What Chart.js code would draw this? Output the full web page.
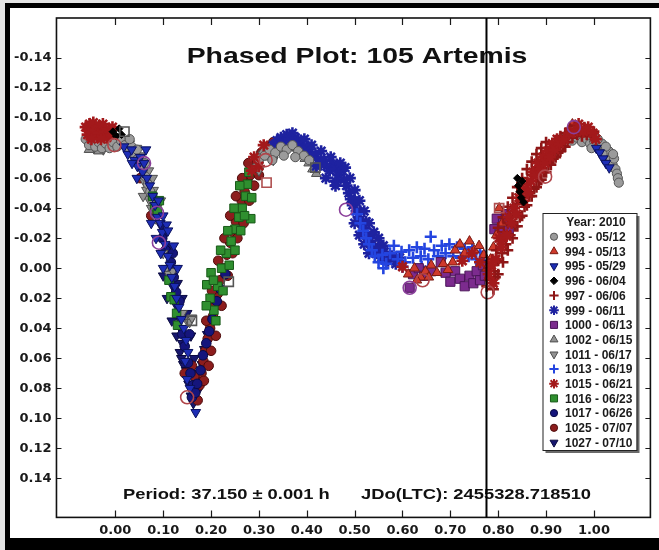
<!DOCTYPE html>
<html><head><meta charset="utf-8">
<script src="https://cdn.jsdelivr.net/npm/chart.js@4.4.1/dist/chart.umd.min.js"></script>
<style>html,body{margin:0;padding:0;background:#fff;overflow:hidden}</style>
</head><body>
<canvas id="c" width="659" height="550"></canvas>
<script>
// ---------- text ----------
const TITLE = 'Phased Plot: 105 Artemis';
const PERIOD_TEXT = 'Period: 37.150 \u00B1 0.001 h';
const JD_TEXT = 'JDo(LTC): 2455328.718510';
const LEGEND_TITLE = 'Year: 2010';
const EPOCH_PHASE = 0.7755;

// ---------- axes ----------
const X_MIN = -0.123, X_MAX = 1.118;
const Y_MIN = -0.1667, Y_MAX = 0.166;
const X_TICKS = [0.00, 0.10, 0.20, 0.30, 0.40, 0.50, 0.60, 0.70, 0.80, 0.90, 1.00];
const Y_TICKS = [-0.14, -0.12, -0.10, -0.08, -0.06, -0.04, -0.02, 0.00, 0.02, 0.04, 0.06, 0.08, 0.10, 0.12, 0.14];

// ---------- series labels ----------
const LABELS = ['993 - 05/12','994 - 05/13','995 - 05/29','996 - 06/04','997 - 06/06','999 - 06/11','1000 - 06/13','1002 - 06/15','1011 - 06/17','1013 - 06/19','1015 - 06/21','1016 - 06/23','1017 - 06/26','1025 - 07/07','1027 - 07/10'];

// ---------- data [phase, mag] ----------
const s993 = [[-0.062,-0.086],[-0.055,-0.082],[-0.048,-0.085],[-0.042,-0.081],[-0.035,-0.084],[-0.028,-0.08],[-0.02,-0.083],[-0.012,-0.08],[-0.005,-0.084],[0.004,-0.081],[0.012,-0.085],[0.02,-0.082],[0.027,-0.079],[0.034,-0.081],[0.04,-0.076],[0.047,-0.073],[0.053,-0.07],[0.058,-0.066],[0.063,-0.061],[0.068,-0.056],[0.073,-0.051],[0.078,-0.046],[0.084,-0.041],[0.088,-0.036],[0.03,-0.086],[0.045,-0.079],[0.062,-0.07],
 [0.3,-0.071],[0.312,-0.075],[0.322,-0.079],[0.334,-0.077],[0.346,-0.081],[0.358,-0.079],[0.37,-0.082],[0.382,-0.078],[0.394,-0.075],[0.405,-0.072],[0.328,-0.072],[0.352,-0.075],[0.376,-0.074],
 [0.935,-0.086],[0.945,-0.088],[0.955,-0.085],[0.965,-0.087],[0.975,-0.084],[0.985,-0.086],[0.992,-0.083],[1.0,-0.085],[1.006,-0.082],[1.012,-0.08],[1.017,-0.083],[1.022,-0.078],[1.027,-0.075],[1.031,-0.078],[1.035,-0.072],[1.039,-0.069],[1.042,-0.073],[1.045,-0.066],[1.048,-0.063],[1.05,-0.06],[1.052,-0.057],[1.025,-0.081],[1.04,-0.076],[0.995,-0.08],[1.008,-0.086],[1.018,-0.076]];
const s994 = [[0.612,0.004],[0.625,0.0],[0.638,0.006],[0.648,0.002],[0.66,-0.002],[0.672,0.003],[0.685,-0.003],[0.695,0.001],[0.705,-0.004],[0.71,-0.012],[0.72,-0.016],[0.73,-0.01],[0.74,-0.018],[0.75,-0.012],[0.76,-0.015],[0.77,-0.009],[0.776,0.0],[0.78,0.006],[0.784,-0.006],[0.79,-0.014],[0.796,-0.022],[0.802,-0.04],[0.808,-0.03],[0.955,-0.096],[0.97,-0.094],[0.63,0.008],[0.655,0.006]];
const s995 = [[0.018,-0.081],[0.026,-0.076],[0.034,-0.079],[0.04,-0.072],[0.046,-0.068],[0.052,-0.074],[0.057,-0.064],[0.064,-0.079],[0.066,-0.06],[0.072,-0.055],[0.078,-0.048],[0.083,-0.042],[0.088,-0.034],[0.094,-0.03],[0.098,-0.024],[0.104,-0.016],[0.107,-0.029],[0.11,-0.008],[0.114,-0.002],[0.118,0.006],[0.124,0.012],[0.128,0.02],[0.133,0.026],[0.138,0.034],[0.143,0.04],[0.148,0.048],[0.152,0.056],[0.146,0.062],[0.15,0.074],[0.156,0.08],[0.168,0.096],
 [0.09,-0.045],[0.075,-0.03],[0.1,-0.035],[0.085,-0.02],[0.11,-0.025],[0.095,-0.01],[0.122,-0.015],[0.06,-0.07],[0.045,-0.06],[0.035,-0.07],[0.1,0.0],[0.13,0.0],
 [1.005,-0.08],[1.012,-0.077],[1.019,-0.073],[1.025,-0.07],[1.032,-0.067]];
const s996 = [[-0.005,-0.091],[0.002,-0.088],[0.008,-0.093],[0.013,-0.089],[0.84,-0.06],[0.842,-0.055],[0.845,-0.051],[0.848,-0.047],[0.85,-0.058],[0.853,-0.044]];
const s997 = [[0.776,0.012],[0.78,0.0],[0.784,0.008],[0.788,-0.006],[0.792,0.002],[0.796,-0.012],[0.8,-0.005],[0.804,-0.018],[0.808,-0.01],[0.812,-0.024],[0.816,-0.016],[0.82,-0.03],[0.825,-0.022],[0.83,-0.036],[0.835,-0.028],[0.84,-0.043],[0.845,-0.034],[0.85,-0.05],[0.855,-0.041],[0.86,-0.056],[0.865,-0.048],[0.87,-0.062],[0.875,-0.053],[0.88,-0.067],[0.885,-0.058],[0.89,-0.072],[0.895,-0.064],[0.9,-0.076],[0.905,-0.069],[0.91,-0.08],[0.915,-0.073],[0.92,-0.084],[0.925,-0.077],[0.93,-0.088],[0.935,-0.081],[0.94,-0.09],[0.945,-0.084],[0.95,-0.093],[0.955,-0.087],[0.96,-0.095],[0.965,-0.089],[0.97,-0.093],[0.975,-0.088],[0.98,-0.094],[0.985,-0.089],[0.99,-0.092],[0.995,-0.088],[1.0,-0.091],
 [0.8,-0.027],[0.81,-0.034],[0.82,-0.041],[0.83,-0.047],[0.84,-0.054],[0.85,-0.06],[0.86,-0.066],[0.87,-0.071],[0.88,-0.076],[0.89,-0.08],[0.9,-0.084],
 [0.8,0.004],[0.81,-0.004],[0.82,-0.012],[0.83,-0.02],[0.84,-0.028],[0.85,-0.035],[0.86,-0.042],[0.87,-0.048],[0.88,-0.054],[0.89,-0.059],[0.9,-0.064],[0.91,-0.069],[0.92,-0.074],[0.93,-0.078],[0.94,-0.081],[0.79,0.014],[0.794,0.006]];
const s999 = [[0.33,-0.082],[0.338,-0.085],[0.346,-0.087],[0.352,-0.084],[0.358,-0.089],[0.364,-0.086],[0.37,-0.09],[0.376,-0.087],[0.382,-0.085],[0.388,-0.082],[0.394,-0.079],[0.4,-0.081],[0.406,-0.077],[0.412,-0.074],[0.418,-0.076],[0.424,-0.072],[0.43,-0.069],[0.436,-0.072],[0.442,-0.068],[0.448,-0.065],[0.454,-0.069],[0.46,-0.066],[0.466,-0.062],[0.472,-0.065],[0.478,-0.059],[0.483,-0.055],[0.488,-0.05],[0.492,-0.046],[0.496,-0.042],[0.5,-0.045],[0.504,-0.038],[0.508,-0.034],[0.512,-0.038],[0.516,-0.03],[0.52,-0.027],[0.524,-0.031],[0.528,-0.022],[0.532,-0.018],[0.536,-0.022],[0.54,-0.014],[0.545,-0.01],[0.55,-0.014],[0.556,-0.007],[0.562,-0.011],[0.57,-0.005],[0.578,-0.008],[0.586,-0.003],[0.594,-0.007],[0.46,-0.058],[0.42,-0.068],
 [0.43,-0.078],[0.45,-0.074],[0.47,-0.07],[0.44,-0.06],[0.46,-0.055],[0.48,-0.067],[0.49,-0.06],[0.5,-0.052],[0.51,-0.045],[0.52,-0.038],[0.53,-0.03],[0.54,-0.024],[0.5,-0.03],[0.51,-0.022],[0.52,-0.016],[0.53,-0.01],[0.55,-0.02],[0.56,-0.015],[0.395,-0.086],[0.41,-0.082]];
const s1000 = [[0.615,0.013],[0.622,0.004],[0.634,0.0],[0.645,0.005],[0.66,0.002],[0.68,-0.004],[0.69,0.003],[0.7,0.009],[0.71,0.002],[0.72,0.007],[0.73,0.012],[0.74,0.005],[0.748,0.01],[0.755,0.002],[0.762,0.008],[0.768,-0.002],[0.772,0.005],[0.792,-0.026],[0.797,-0.033],[0.803,-0.024],[0.81,-0.03],[0.816,-0.036],[0.822,-0.026]];
const s1002 = [[0.292,-0.068],[0.3,-0.074],[0.308,-0.078],[0.316,-0.074],[0.324,-0.081],[0.332,-0.078],[0.34,-0.083],[0.348,-0.079],[0.356,-0.083],[0.364,-0.08],[0.372,-0.084],[0.38,-0.08],[0.388,-0.077],[0.396,-0.073],[0.404,-0.07],[0.412,-0.066],[0.42,-0.063],[-0.055,-0.079],[-0.035,-0.078]];
const s1011 = [[0.03,-0.083],[0.038,-0.078],[0.05,-0.07],[0.06,-0.058],[0.065,-0.052],[0.07,-0.046],[0.075,-0.04],[0.08,-0.052],[0.085,-0.033],[0.09,-0.042],[0.1,-0.01],[0.106,0.0],[0.112,0.004],[0.12,0.002],[0.14,0.03],[0.148,0.034],[0.155,0.036],[0.16,0.033],[-0.045,-0.08],[-0.025,-0.079],[0.3,-0.065],[0.33,-0.072],
 [0.045,-0.08],[0.055,-0.075],[0.07,-0.065],[0.058,-0.048],[0.095,-0.045],[0.078,-0.06]];
const s1013 = [[0.505,-0.036],[0.512,-0.03],[0.518,-0.025],[0.524,-0.02],[0.53,-0.016],[0.536,-0.012],[0.542,-0.008],[0.55,-0.004],[0.558,-0.009],[0.566,-0.003],[0.574,-0.01],[0.582,-0.015],[0.59,-0.006],[0.598,-0.011],[0.606,-0.004],[0.614,-0.012],[0.622,-0.007],[0.63,-0.014],[0.638,-0.008],[0.646,-0.013],[0.654,-0.006],[0.659,-0.021],[0.666,-0.012],[0.674,-0.008],[0.682,-0.015],[0.69,-0.01],[0.698,-0.016],[0.706,-0.008],[0.714,-0.014],[0.722,-0.007],[0.73,-0.013],[0.738,-0.008],[0.746,-0.014],[0.754,-0.006],[0.762,-0.011],[0.77,-0.005],[0.6,-0.001],[0.64,-0.001],[0.56,0.0]];
const s1015 = [[-0.062,-0.094],[-0.058,-0.089],[-0.054,-0.096],[-0.05,-0.091],[-0.046,-0.097],[-0.042,-0.092],[-0.038,-0.088],[-0.034,-0.095],[-0.03,-0.09],[-0.026,-0.096],[-0.022,-0.091],[-0.018,-0.087],[-0.014,-0.093],[-0.01,-0.089],[-0.006,-0.094],[-0.05,-0.086],[-0.03,-0.086],
 [0.78,0.004],[0.786,-0.002],[0.79,0.01],[0.795,-0.006],[0.802,-0.02],[0.806,-0.014],[0.81,-0.02],[0.818,-0.022],[0.822,-0.034],[0.828,-0.03],[0.833,-0.04],[0.838,-0.036],[0.843,-0.047],[0.852,-0.045],[0.858,-0.053],[0.862,-0.05],[0.868,-0.058],[0.873,-0.064],[0.878,-0.062],[0.883,-0.07],[0.888,-0.066],[0.893,-0.074],[0.898,-0.07],[0.903,-0.078],[0.908,-0.074],[0.913,-0.083],[0.918,-0.079],[0.923,-0.086],[0.928,-0.083],[0.938,-0.086],[0.948,-0.09],[0.958,-0.091],[0.968,-0.096],[0.978,-0.091],[0.988,-0.094],[0.998,-0.09],[1.004,-0.086],
 [0.725,-0.005],[0.745,-0.01],[0.762,-0.004],[0.6,-0.001],[0.29,-0.074],[0.3,-0.068],[0.31,-0.082],[0.285,-0.065]];
const s1016 = [[0.078,-0.048],[0.082,-0.041],[0.088,-0.038],[0.092,-0.045],[0.112,0.008],[0.116,0.019],[0.123,0.021],[0.128,0.03],[0.13,0.038],[0.191,0.011],[0.2,0.003],[0.206,0.028],[0.198,0.02],[0.214,0.012],[0.222,0.0],[0.232,-0.01],[0.242,-0.018],[0.25,-0.026],[0.258,-0.034],[0.265,-0.04],[0.272,-0.048],[0.279,-0.064],[0.285,-0.047],[0.283,-0.033],[0.276,-0.056],
 [0.19,0.025],[0.21,0.035],[0.225,0.015],[0.205,0.008],[0.238,-0.002],[0.22,-0.012],[0.25,-0.012],[0.235,-0.025],[0.262,-0.025],[0.248,-0.04],[0.27,-0.035],[0.26,-0.055]];
const s1017 = [[0.098,-0.02],[0.105,-0.012],[0.116,-0.004],[0.122,0.006],[0.127,0.016],[0.134,0.022],[0.14,0.044],[0.145,0.052],[0.152,0.063],[0.157,0.07],[0.162,0.078],[0.16,0.086],[0.167,0.083],[0.171,0.077],[0.178,0.068],[0.183,0.058],[0.19,0.05],[0.196,0.042],[0.203,0.034],[0.212,0.022],[0.22,0.014],[0.23,0.004],[0.12,-0.01],[0.155,0.044]];
const s1025 = [[0.172,0.088],[0.176,0.078],[0.18,0.07],[0.184,0.062],[0.188,0.055],[0.193,0.047],[0.198,0.04],[0.204,0.032],[0.209,0.025],[0.214,0.017],[0.219,0.008],[0.226,0.0],[0.233,-0.009],[0.24,-0.017],[0.246,-0.024],[0.252,-0.031],[0.258,-0.038],[0.264,-0.045],[0.27,-0.051],[0.276,-0.058],[0.282,-0.062],[0.288,-0.068],[0.296,-0.073],[0.305,-0.077],[0.318,-0.081],[0.33,-0.084],[0.16,0.065],[0.165,0.072],[0.145,0.07],[0.052,-0.06],[0.075,-0.035],
 [0.185,0.075],[0.195,0.065],[0.2,0.055],[0.19,0.035],[0.21,0.045],[0.222,0.025],[0.202,0.015],[0.235,0.005],[0.215,-0.005],[0.245,-0.01],[0.228,-0.02],[0.255,-0.02],[0.24,-0.035],[0.268,-0.03],[0.252,-0.048],[0.28,-0.045],[0.265,-0.06],[0.29,-0.055],[0.278,-0.07],[0.3,-0.062]];
const s1027 = [[0.096,-0.028],[0.103,-0.022],[0.11,-0.014],[0.115,0.0],[0.12,0.012],[0.126,0.024],[0.132,0.033],[0.136,0.04],[0.14,0.05],[0.135,0.056],[0.142,0.064],[0.148,0.068],[0.153,0.077],[0.158,0.085],[0.163,0.09],[0.172,0.082],[0.176,0.072],[0.181,0.064],[0.186,0.054],[0.192,0.044],[0.2,0.038],[0.208,0.024],
 [0.125,0.0],[0.1,0.005],[0.13,0.01],[0.108,0.02],[0.14,0.02],[0.118,0.035],[0.15,0.03],[0.128,0.045],[0.158,0.045],[0.138,0.06],[0.165,0.06],[0.17,0.07]];
// open reference markers (not in legend)
const openRedCircles = [[0.15,0.086],[0.642,0.008],[0.778,0.016],[0.898,-0.061],[-0.002,-0.082],[0.314,-0.072]];
const openPurpleCircles = [[0.615,0.013],[0.958,-0.094],[0.091,-0.017],[0.482,-0.039],[0.06,-0.07],[0.087,-0.037]];
const openGraySquares = [[0.019,-0.091],[0.418,-0.067],[0.16,0.035],[0.237,0.009]];
const openRedSquares = [[0.802,-0.04],[0.316,-0.057]];

// ---------- styles ----------
const STYLE = [
 {d:s993,  ps:'circle',   rot:0,   r:4.6, bg:'#9b9b9b', bd:'#555555', bw:1,   order:9},
 {d:s994,  ps:'triangle', rot:0,   r:5.6, bg:'#cf3a2c', bd:'#7a1a12', bw:1,   order:4},
 {d:s995,  ps:'triangle', rot:180, r:5.6, bg:'#1d2db5', bd:'#0b125e', bw:1,   order:7},
 {d:s996,  ps:'rectRot',  rot:0,   r:3.8, bg:'#000000', bd:'#000000', bw:1,   order:1},
 {d:s997,  ps:'cross',    rot:0,   r:5.5, bg:'#8e1616', bd:'#8e1616', bw:2.6, order:3},
 {d:s999,  ps:'star',     rot:0,   r:6,   bg:'#1e22a0', bd:'#1e22a0', bw:2.6, order:10},
 {d:s1000, ps:'rect',     rot:0,   r:6.5, bg:'#7c2b8e', bd:'#4a1458', bw:1,   order:5},
 {d:s1002, ps:'triangle', rot:0,   r:5.6, bg:'#929292', bd:'#4e4e4e', bw:1,   order:11},
 {d:s1011, ps:'triangle', rot:180, r:5.6, bg:'#929292', bd:'#4e4e4e', bw:1,   order:12},
 {d:s1013, ps:'cross',    rot:0,   r:6,   bg:'#2445e0', bd:'#2445e0', bw:2.6, order:6},
 {d:s1015, ps:'star',     rot:0,   r:6,   bg:'#a3191b', bd:'#a3191b', bw:2.6, order:2},
 {d:s1016, ps:'rect',     rot:0,   r:6,   bg:'#2f8f2f', bd:'#195a19', bw:1,   order:8},
 {d:s1017, ps:'circle',   rot:0,   r:4.8, bg:'#15157c', bd:'#0a0a45', bw:1,   order:13},
 {d:s1025, ps:'circle',   rot:0,   r:4.8, bg:'#8c1d1d', bd:'#4e0c0c', bw:1,   order:14},
 {d:s1027, ps:'triangle', rot:180, r:5.6, bg:'#17176f', bd:'#0a0a40', bw:1,   order:15}
];
const LEGEND_R = {circle:3.6, triangle:4.6, rectRot:3.8, cross:4.6, star:4.8, rect:5};

const toPts = a => a.map(p => ({x: p[0], y: p[1]}));
const datasets = STYLE.map((s, i) => ({
  label: LABELS[i], data: toPts(s.d), showLine: false, order: s.order,
  pointStyle: s.ps, rotation: s.rot, pointRotation: s.rot, pointRadius: s.r, pointHoverRadius: s.r,
  pointBackgroundColor: s.bg, pointBorderColor: s.bd, pointBorderWidth: s.bw,
  backgroundColor: s.bg, borderColor: s.bd
}));
const openSet = (arr, ps, col) => ({
  label: '_open', data: toPts(arr), showLine: false, order: 0,
  pointStyle: ps, pointRadius: 6.5, pointHoverRadius: 6.5,
  pointBackgroundColor: 'rgba(0,0,0,0)', pointBorderColor: col, pointBorderWidth: 1.6
});
datasets.push(openSet(openRedCircles, 'circle', '#b0454a'));
datasets.push(openSet(openPurpleCircles, 'circle', '#8a3f9a'));
datasets.push(openSet(openGraySquares, 'rect', '#555555'));
datasets.push(openSet(openRedSquares, 'rect', '#b05050'));

function stretchedText(c, txt, x, y, font, sx, align) {
  c.save();
  c.font = font; c.textBaseline = 'alphabetic'; c.fillStyle = '#111';
  const w = c.measureText(txt).width * sx;
  let x0 = x;
  if (align === 'center') x0 = x - w / 2;
  c.translate(x0, y); c.scale(sx, 1);
  c.textAlign = 'left';
  c.fillText(txt, 0, 0);
  c.restore();
}

const decor = {
  id: 'decor',
  beforeDraw(chart) {
    const c = chart.ctx; c.save(); c.fillStyle = '#fff'; c.fillRect(0, 0, chart.width, chart.height); c.restore();
  },
  afterDatasetsDraw(chart) {
    const c = chart.ctx, a = chart.chartArea, xs = chart.scales.x, ys = chart.scales.y;
    c.save();
    c.strokeStyle = '#1a1a1a'; c.lineWidth = 1.2;
    c.beginPath();
    xs.ticks.forEach(t => { const p = Math.round(xs.getPixelForValue(t.value)) + 0.5;
      c.moveTo(p, a.bottom); c.lineTo(p, a.bottom - 7); c.moveTo(p, a.top); c.lineTo(p, a.top + 7); });
    ys.ticks.forEach(t => { const p = Math.round(ys.getPixelForValue(t.value)) + 0.5;
      c.moveTo(a.left, p); c.lineTo(a.left + 5, p); c.moveTo(a.right, p); c.lineTo(a.right - 5, p); });
    c.stroke();
    c.lineWidth = 1.6; c.strokeStyle = '#111';
    c.strokeRect(a.left, a.top, a.right - a.left, a.bottom - a.top);
    stretchedText(c, TITLE, 357, 63, 'bold 22px "Liberation Sans", Arial, sans-serif', 1.29, 'center');
    stretchedText(c, PERIOD_TEXT, 123, 499, 'bold 14px "Liberation Sans", Arial, sans-serif', 1.31, 'left');
    stretchedText(c, JD_TEXT, 361, 499, 'bold 14px "Liberation Sans", Arial, sans-serif', 1.31, 'left');
    const ex = xs.getPixelForValue(EPOCH_PHASE);
    c.strokeStyle = '#000'; c.lineWidth = 2;
    c.beginPath(); c.moveTo(ex, a.top); c.lineTo(ex, a.bottom); c.stroke();
    // legend
    const L = {x: 542.5, y: 213, w: 94, h: 237};
    c.fillStyle = '#6a6a6a'; c.fillRect(L.x + 3, L.y + 3, L.w, L.h);
    c.fillStyle = '#fff'; c.fillRect(L.x, L.y, L.w, L.h);
    c.strokeStyle = '#222'; c.lineWidth = 1; c.strokeRect(L.x + 0.5, L.y + 0.5, L.w, L.h);
    c.font = 'bold 12px "Liberation Sans", Arial, sans-serif'; c.fillStyle = '#1a1a1a';
    c.textAlign = 'center'; c.textBaseline = 'alphabetic';
    c.fillText(LEGEND_TITLE, 596, 226);
    c.textAlign = 'left';
    const H = Chart.helpers;
    STYLE.forEach((s, i) => {
      const cy = 236.7 + i * 14.7;
      c.fillStyle = s.bg; c.strokeStyle = s.bd; c.lineWidth = s.bw > 1.5 ? 2 : 1;
      if (H && H.drawPoint) {
        H.drawPoint(c, {pointStyle: s.ps, rotation: s.rot, radius: LEGEND_R[s.ps], borderWidth: s.bw > 1.5 ? 2 : 1}, 554, cy);
      } else { c.beginPath(); c.arc(554, cy, 3.5, 0, Math.PI * 2); c.fill(); }
      c.fillStyle = '#1a1a1a';
      c.fillText(LABELS[i], 565, cy + 4.3);
    });
    c.restore();
  },
  afterDraw(chart) {
    const c = chart.ctx; c.save();
    c.fillStyle = '#e4e4e4'; c.fillRect(0, 0, 5, 550); c.fillRect(0, 0, 659, 3);
    c.fillStyle = '#000';
    c.fillRect(5, 3, 5, 547); c.fillRect(5, 3, 654, 5); c.fillRect(5, 538, 654, 12);
    c.restore();
  }
};

const fmt = v => (Math.abs(v) < 1e-9 ? 0 : v).toFixed(2);
const tickFont = {family: '"DejaVu Sans", sans-serif', weight: 'bold', size: 13};

new Chart(document.getElementById('c'), {
  type: 'scatter',
  data: {datasets},
  plugins: [decor],
  options: {
    responsive: false, animation: false, devicePixelRatio: 1,
    layout: {padding: {left: 9, right: 5, top: 18, bottom: 7}},
    plugins: {legend: {display: false}, title: {display: false}, tooltip: {enabled: false}},
    events: [],
    scales: {
      x: {
        type: 'linear', min: X_MIN, max: X_MAX,
        grid: {display: false, drawTicks: false}, border: {display: false},
        afterBuildTicks: s => { s.ticks = X_TICKS.map(v => ({value: v})); },
        ticks: {callback: v => fmt(v), padding: 5, font: tickFont, color: '#1a1a1a', maxRotation: 0, autoSkip: false}
      },
      y: {
        type: 'linear', min: Y_MIN, max: Y_MAX, reverse: true,
        grid: {display: false, drawTicks: false}, border: {display: false},
        afterBuildTicks: s => { s.ticks = Y_TICKS.map(v => ({value: v})); },
        ticks: {callback: v => fmt(v), padding: 5, font: tickFont, color: '#1a1a1a', autoSkip: false}
      }
    }
  }
});
</script>
</body></html>
